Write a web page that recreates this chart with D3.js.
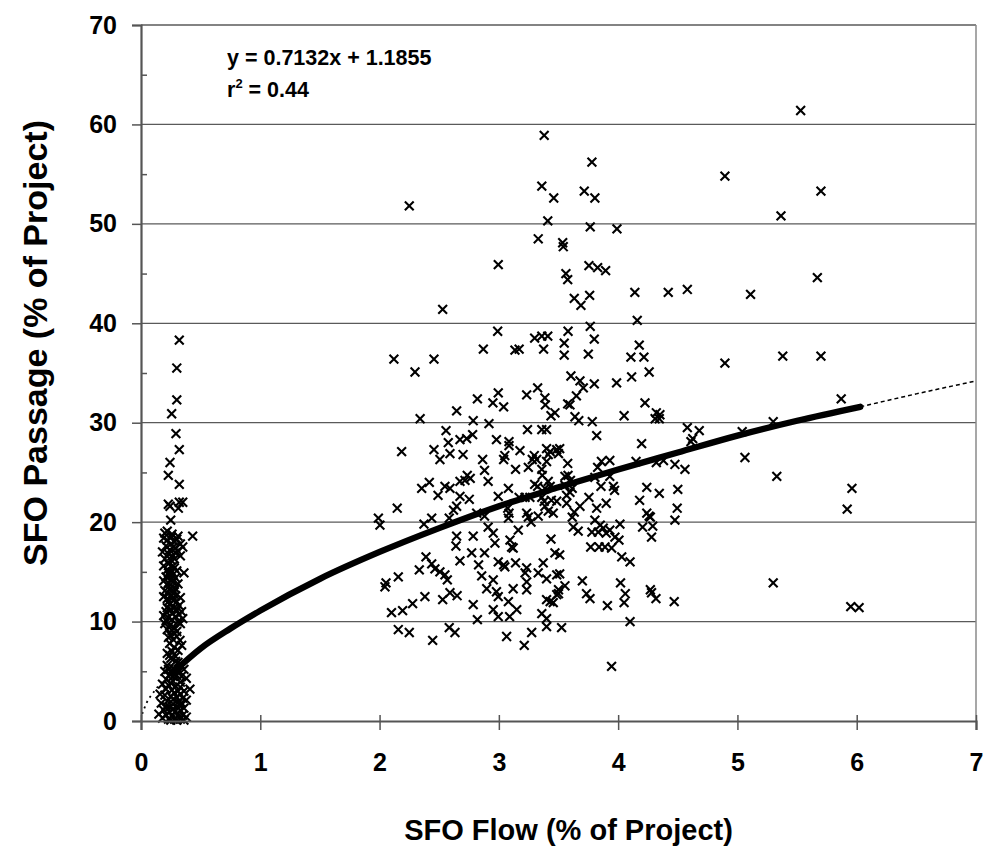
<!DOCTYPE html>
<html>
<head>
<meta charset="utf-8">
<script src="https://cdn.jsdelivr.net/npm/d3@7"></script>
<style>
  html, body { margin: 0; padding: 0; background: #fff; }
  svg { display: block; font-family: "Liberation Sans", Arial, Helvetica, sans-serif; font-weight: bold; }
</style>
</head>
<body>
<svg id="chart" width="983" height="846"></svg>
<script>
// SFO flow vs. SFO passage, both as % of project.
// Observations at very low SFO flow (~0.1–0.45 %).
const lowFlowPoints = [
  [0.321,38.3],[0.30,35.5],[0.30,32.3],[0.257,30.9],[0.293,28.9],[0.321,27.3],[0.243,26.0],
  [0.229,24.7],[0.321,23.8],[0.229,21.8],[0.321,22.0],[0.35,22.0],[0.313,21.4],[0.243,21.6],
  [0.249,20.2],[0.22,19.1],[0.433,18.6],
  [0.19,18.4],[0.22,18.2],[0.257,18.5],[0.28,18.0],[0.30,18.3],[0.33,17.8],[0.35,17.5],
  [0.21,17.6],[0.24,17.2],[0.27,17.5],[0.31,17.1],[0.23,16.8],[0.26,16.6],[0.29,16.9],
  [0.20,18.9],[0.26,18.8],[0.31,18.6],[0.18,17.0],[0.25,17.8],[0.29,17.4],[0.33,16.6],
  [0.20,16.3],[0.28,16.3],
  [0.25,16.2],[0.23,15.8],[0.27,15.6],[0.22,15.2],[0.26,15.0],[0.36,14.9],[0.28,15.4],[0.24,14.6],
  [0.19,15.6],[0.30,15.1],[0.23,14.9],[0.29,14.4],[0.19,14.1],[0.31,13.8],[0.23,13.9],
  [0.29,13.3],[0.20,13.1],[0.26,12.6],
  [0.21,14.5],[0.25,14.2],[0.27,14.0],[0.22,13.7],[0.26,13.5],[0.24,13.2],[0.28,13.0],[0.23,12.8],
  [0.22,12.3],[0.27,12.1],[0.30,12.0],[0.24,11.7],[0.32,11.6],[0.25,11.2],[0.34,11.0],[0.21,11.0],
  [0.19,12.5],[0.29,12.6],[0.23,12.0],[0.33,12.4],[0.28,11.4],[0.22,11.4],[0.30,11.1],
  [0.26,10.8],[0.32,10.7],[0.21,10.1],
  [0.19,10.6],[0.23,10.4],[0.26,10.2],[0.29,10.5],[0.31,10.0],[0.35,10.3],[0.20,9.8],[0.24,9.6],
  [0.28,9.4],[0.33,9.8],[0.22,9.2],[0.30,9.0],[0.26,9.1],
  [0.327,8.1],[0.341,7.6],[0.25,8.6],[0.27,8.2],[0.24,7.8],[0.28,7.4],[0.26,7.0],[0.22,6.8],
  [0.30,8.5],[0.23,8.4],[0.31,7.1],[0.29,6.5],[0.24,6.6],
  [0.25,6.3],[0.29,6.0],[0.33,5.7],[0.22,5.6],[0.27,5.3],[0.36,5.2],[0.20,5.0],
  [0.31,5.9],[0.23,5.2],[0.32,5.0],[0.27,4.5],[0.33,3.9],[0.25,3.8],
  [0.24,4.7],[0.30,4.6],[0.34,4.5],[0.38,4.3],[0.21,4.2],[0.27,4.0],
  [0.18,3.7],[0.23,3.6],[0.29,3.5],[0.33,3.4],[0.41,3.2],[0.26,3.1],[0.36,3.0],
  [0.31,3.0],[0.21,3.2],[0.28,2.8],[0.33,2.7],
  [0.16,2.7],[0.20,2.6],[0.25,2.5],[0.30,2.4],[0.35,2.3],[0.38,2.1],[0.22,2.0],
  [0.27,2.2],[0.31,1.9],[0.21,1.5],[0.34,1.8],
  [0.17,1.8],[0.27,1.7],[0.32,1.6],[0.24,1.4],[0.36,1.3],[0.19,1.1],[0.29,1.0],
  [0.27,1.2],[0.33,1.1],[0.24,0.9],
  [0.15,0.7],[0.21,0.6],[0.26,0.5],[0.31,0.5],[0.35,0.6],[0.38,0.4],[0.18,0.3],[0.23,0.2],
  [0.28,0.2],[0.33,0.2],[0.30,0.1],[0.36,0.1],[0.25,0.1]
];

// Observations at higher SFO flow (~2–6 %).
const highFlowPoints = [
  [2.249,51.8],[2.995,45.9],[2.529,41.4],[2.99,39.2],[2.87,37.4],[2.12,36.4],[2.456,36.4],
  [2.297,35.1],[2.82,32.4],[2.95,32.0],[2.995,33.0],[2.646,31.2],[2.34,30.4],[2.785,30.2],
  [2.917,29.9],[2.557,29.2],[2.78,28.8],[2.674,28.3],[2.73,28.4],[2.576,28.0],[2.98,28.3],
  [2.185,27.1],[2.456,27.3],[2.506,26.3],[2.59,26.9],[2.70,26.8],[2.864,26.3],[2.88,25.2],
  [2.735,24.7],[2.76,24.4],[2.91,24.1],[2.716,24.2],[2.674,24.1],[2.353,23.4],[2.417,24.0],
  [2.548,23.6],[2.59,23.4],[2.49,22.7],[2.674,22.6],[2.752,22.3],[2.646,21.6],[2.148,21.4],
  [2.62,21.2],[1.99,20.4],[2.003,19.7],[2.437,20.4],[2.372,19.8],[2.584,20.4],[2.814,20.9],
  [2.88,20.6],[2.91,19.5],[2.953,18.9],[2.646,18.6],[2.785,18.6],[2.64,17.6],[2.772,16.9],
  [2.967,17.9],[2.88,16.9],[2.674,16.1],[2.995,16.0],[2.389,16.5],[2.437,15.8],[2.464,15.3],
  [2.506,15.0],[2.548,14.7],[2.568,14.2],[2.333,15.2],[2.83,15.7],[2.856,14.6],[2.953,14.2],
  [2.898,13.3],[2.98,13.0],[2.054,13.9],[2.045,13.5],[2.157,14.5],[2.38,12.5],[2.59,12.9],
  [2.65,12.6],[2.529,12.2],[2.277,11.8],[2.193,11.1],[2.10,10.9],[2.785,11.7],[2.953,11.2],
  [2.82,10.2],[2.157,9.2],[2.249,8.9],[2.584,9.4],[2.632,8.9],[2.445,8.1],
  [3.38,58.9],[3.78,56.2],[3.36,53.8],[3.46,52.6],[3.716,53.3],[3.805,52.6],[3.41,50.3],
  [3.766,49.7],[3.99,49.5],[3.33,48.5],[3.535,48.1],[3.54,47.7],[3.562,45.0],[3.577,44.4],
  [3.755,45.8],[3.828,45.6],[3.895,45.3],[3.632,42.5],[3.688,41.8],[3.761,42.8],[3.766,39.7],
  [3.80,38.4],[3.30,38.5],[3.36,38.7],[3.41,38.7],[3.58,39.2],[3.548,38.0],[3.548,36.8],
  [3.75,36.9],[3.135,37.3],[3.17,37.4],[3.375,37.4],[4.107,36.6],[3.604,34.7],[3.68,34.2],
  [3.80,33.9],[3.987,34.0],[3.325,33.5],[3.708,33.5],[4.113,34.6],
  [3.04,31.6],[3.233,32.8],[3.386,32.5],[3.39,31.8],[3.47,31.0],[3.437,30.7],[3.577,31.9],
  [3.596,31.8],[3.65,32.7],[3.638,30.6],[3.67,30.2],[3.783,30.1],[4.05,30.7],[3.24,29.3],
  [3.36,29.3],[3.40,29.3],[3.82,28.7],[3.085,28.1],[3.085,27.7],[3.177,27.2],[3.05,26.7],
  [3.04,26.3],[3.297,26.7],[3.28,26.3],[3.317,26.3],[3.40,27.4],[3.43,27.1],[3.485,27.3],
  [3.51,27.4],[3.50,26.9],[3.414,26.8],[3.40,26.1],[3.577,25.9],[3.828,25.5],[3.86,26.1],
  [3.93,26.2],[3.14,25.3],[3.247,25.5],[3.36,25.3],[3.364,24.7],[3.30,23.8],[3.325,23.6],
  [3.414,24.1],[3.43,23.6],[3.386,23.4],[3.554,24.6],[3.58,24.7],[3.60,24.2],[3.554,23.7],
  [3.615,23.4],[3.596,23.0],[3.568,22.7],[3.805,24.5],[3.856,23.6],[3.93,24.6],[3.96,23.6],
  [3.97,23.2],[3.08,23.4],[2.995,22.6],[3.17,22.5],[3.22,22.5],[3.26,22.5],[3.36,22.5],
  [3.38,22.1],[3.44,22.2],[3.485,22.1],[3.568,21.9],[3.755,22.5],[3.82,21.4],[3.90,21.9],
  [3.074,21.4],[3.085,20.9],[3.08,20.4],[3.233,20.9],[3.247,20.5],[3.27,20.0],[3.33,20.6],
  [3.386,21.6],[3.414,21.1],[3.456,20.9],[3.632,21.0],[3.615,20.5],[3.624,19.5],[3.665,19.1],
  [3.68,21.6],[3.163,19.2],[3.805,20.2],[3.85,19.7],[3.875,19.4],[3.833,19.0],[3.90,18.9],
  [3.93,19.2],[3.973,18.5],[4.015,19.8],[4.007,18.2],[3.945,17.4],[3.89,17.5],[3.84,17.5],
  [3.77,17.5],[3.78,19.0],[4.03,16.5],[4.10,16.0],[3.093,18.2],[3.107,17.5],[3.12,17.4],
  [3.437,18.3],[3.47,16.9],[3.51,16.7],[3.04,15.7],[3.05,15.5],[3.14,15.9],[3.372,15.9],
  [3.233,15.4],[3.22,14.9],[3.33,14.9],[3.40,14.3],[3.485,14.7],[3.51,14.8],[3.233,14.0],
  [3.233,13.2],[3.12,13.3],[3.50,13.2],[3.554,13.6],[3.70,14.1],[3.735,12.8],[3.764,12.3],
  [4.02,13.9],[4.06,12.8],[4.05,11.9],[3.91,11.6],[2.995,12.5],[2.995,10.5],[3.08,12.0],
  [3.15,11.2],[3.09,10.5],[3.40,12.2],[3.43,12.0],[3.456,11.9],[3.50,12.8],[3.485,12.7],
  [3.36,10.8],[3.40,10.3],[3.40,9.5],[3.526,9.4],[4.10,10.0],[3.275,8.9],[3.065,8.5],
  [3.213,7.6],[3.945,5.5],
  [5.53,61.4],[4.895,54.8],[5.70,53.3],[5.365,50.8],[5.67,44.6],[4.14,43.1],[4.42,43.1],
  [4.58,43.4],[5.11,42.9],[4.16,40.3],[4.177,37.8],[4.216,36.6],[4.26,35.1],[4.895,36.0],
  [5.38,36.7],[5.70,36.7],[4.225,32.0],[4.32,31.0],[4.35,30.8],[4.31,30.4],[4.345,30.4],
  [5.87,32.4],[5.30,30.1],[4.58,29.5],[4.68,29.2],[4.625,28.4],[4.61,28.1],[5.04,29.1],
  [4.197,27.9],[5.063,26.5],[4.15,26.1],[4.32,26.0],[4.38,26.2],[4.476,25.8],[4.56,25.3],
  [5.33,24.6],[4.24,23.5],[4.345,22.9],[4.50,23.3],[4.18,22.2],[5.96,23.4],[5.92,21.3],
  [4.495,21.4],[4.24,20.9],[4.26,20.6],[4.27,20.5],[4.476,20.2],[4.29,19.6],[4.205,19.5],
  [4.28,18.5],[5.30,13.9],[4.27,13.2],[4.28,12.9],[4.317,12.3],[4.47,12.0],[5.95,11.5],
  [6.02,11.4]
];

// Trend line through the data range, and its dotted extensions to the axes.
const trendPoints = [
  [0.27,4.9],[0.5,7.3],[0.75,9.3],[1,11.1],[1.5,14.3],[2,17.0],[2.5,19.4],[3,21.6],
  [3.5,23.5],[4,25.3],[4.5,27.0],[5,28.7],[5.5,30.2],[6.03,31.6]
];
const trendLeadIn = [[0.01,0.7],[0.05,1.9],[0.1,2.8],[0.18,4.0],[0.27,4.9]];
const trendTail = [[6.03,31.6],[6.5,32.9],[7,34.2]];

const xTicks = [0,1,2,3,4,5,6,7];
const yTicks = [0,10,20,30,40,50,60,70];
const yMinorTicks = [5,15,25,35,45,55,65];

const equationText = "y = 0.7132x + 1.1855";
const r2Value = "0.44";
const xTitle = "SFO Flow (% of Project)";
const yTitle = "SFO Passage (% of Project)";

const svg = d3.select("#chart");
const plot = { left: 141, right: 976, top: 25, bottom: 721 };

const x = d3.scaleLinear().domain([0, 7]).range([plot.left, plot.right]);
const y = d3.scaleLinear().domain([0, 70]).range([plot.bottom, plot.top]);

// Horizontal gridlines and the right-hand frame
svg.append("g")
  .selectAll("line.grid")
  .data(yTicks.filter(d => d > 0))
  .join("line")
  .attr("x1", plot.left).attr("x2", plot.right)
  .attr("y1", d => y(d)).attr("y2", d => y(d))
  .attr("stroke", "#5a5a5a").attr("stroke-width", 1.3);

svg.append("line")
  .attr("x1", plot.right).attr("x2", plot.right)
  .attr("y1", plot.top).attr("y2", plot.bottom)
  .attr("stroke", "#8a8a8a").attr("stroke-width", 1.5);

// Scatter markers (×)
const cross = "M-4.4,-4.4L4.4,4.4M-4.4,4.4L4.4,-4.4";
svg.append("g")
  .selectAll("path")
  .data(lowFlowPoints.concat(highFlowPoints))
  .join("path")
  .attr("transform", d => `translate(${x(d[0])},${y(d[1])})`)
  .attr("d", cross)
  .attr("fill", "none")
  .attr("stroke", "#000")
  .attr("stroke-width", 2.1);

// Trend line
const line = d3.line().x(d => x(d[0])).y(d => y(d[1])).curve(d3.curveMonotoneX);

svg.append("path")
  .datum(trendLeadIn)
  .attr("d", line)
  .attr("fill", "none").attr("stroke", "#000")
  .attr("stroke-width", 1.8).attr("stroke-dasharray", "2,4");

svg.append("path")
  .datum(trendTail)
  .attr("d", line)
  .attr("fill", "none").attr("stroke", "#000")
  .attr("stroke-width", 1.5).attr("stroke-dasharray", "4,3");

svg.append("path")
  .datum(trendPoints)
  .attr("d", line)
  .attr("fill", "none").attr("stroke", "#000")
  .attr("stroke-width", 6.3).attr("stroke-linecap", "round").attr("stroke-linejoin", "round");

// Y axis: major ticks outside with labels, minor ticks inside
const yAxis = svg.append("g")
  .attr("transform", `translate(${plot.left},0)`)
  .call(d3.axisLeft(y).tickValues(yTicks).tickSize(9).tickPadding(15).tickFormat(d3.format("d")));
yAxis.select(".domain").attr("stroke", "#555").attr("stroke-width", 2.2);
yAxis.selectAll(".tick line").attr("stroke", "#555").attr("stroke-width", 1.5);
yAxis.selectAll(".tick text")
  .attr("fill", "#000").style("font-size", "25px").style("font-weight", "bold")
  .style("font-family", '"Liberation Sans", Arial, sans-serif');

const yMinor = svg.append("g")
  .attr("transform", `translate(${plot.left},0)`)
  .call(d3.axisLeft(y).tickValues(yMinorTicks).tickSize(-6).tickFormat(""));
yMinor.select(".domain").remove();
yMinor.selectAll(".tick line").attr("stroke", "#555").attr("stroke-width", 1.5);

// X axis: ticks cross the axis line
const xAxis = svg.append("g")
  .attr("transform", `translate(0,${plot.bottom})`)
  .call(d3.axisBottom(x).tickValues(xTicks).tickSize(9).tickPadding(23).tickFormat(d3.format("d")));
xAxis.select(".domain").attr("stroke", "#555").attr("stroke-width", 2.2);
xAxis.selectAll(".tick line").attr("y1", -6).attr("stroke", "#555").attr("stroke-width", 1.5);
xAxis.selectAll(".tick text")
  .attr("fill", "#000").style("font-size", "25px").style("font-weight", "bold")
  .style("font-family", '"Liberation Sans", Arial, sans-serif');

// Axis titles
svg.append("text")
  .attr("x", (plot.left + plot.right) / 2 + 10)
  .attr("y", 840)
  .attr("text-anchor", "middle")
  .style("font-size", "29px")
  .text(xTitle);

svg.append("text")
  .attr("transform", `translate(47,343) rotate(-90)`)
  .attr("text-anchor", "middle")
  .style("font-size", "34px")
  .text(yTitle);

// Regression label
svg.append("text")
  .attr("x", 227).attr("y", 65)
  .style("font-size", "21.5px")
  .text(equationText);

const r2 = svg.append("text")
  .attr("x", 227).attr("y", 97)
  .style("font-size", "21.5px");
r2.append("tspan").text("r");
r2.append("tspan").attr("dy", -9).style("font-size", "13px").text("2");
r2.append("tspan").attr("dy", 9).text(" = " + r2Value);
</script>
</body>
</html>
